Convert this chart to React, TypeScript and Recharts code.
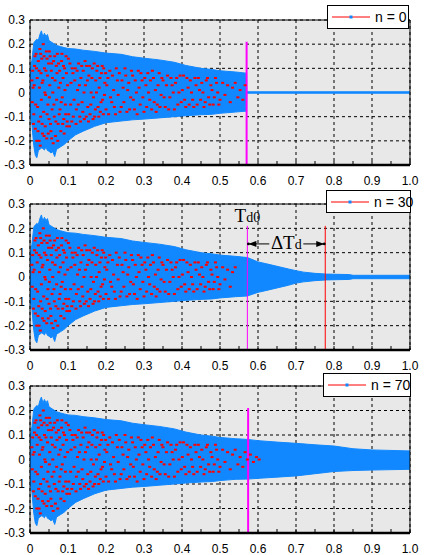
import React from 'react';
import { ComposedChart, Area, Scatter, XAxis, YAxis, CartesianGrid, ReferenceLine } from 'recharts';

// ---------- axis ticks ----------
const xTicks = [0, 0.1, 0.2, 0.3, 0.4, 0.5, 0.6, 0.7, 0.8, 0.9, 1.0];
const xTickLabels = ['0', '0.1', '0.2', '0.3', '0.4', '0.5', '0.6', '0.7', '0.8', '0.9', '1.0'];
const xMinorTicks = [0, 0.05, 0.1, 0.15, 0.2, 0.25, 0.3, 0.35, 0.4, 0.45, 0.5, 0.55, 0.6, 0.65, 0.7, 0.75, 0.8, 0.85, 0.9, 0.95, 1.0];
const yTicks = [-0.3, -0.2, -0.1, 0, 0.1, 0.2, 0.3];
const yTickLabels = ['-0.3', '-0.2', '-0.1', '0', '0.1', '0.2', '0.3'];
const legendLabels = ['n = 0', 'n = 30', 'n = 70'];

// ---------- shared signal envelope (0 .. 0.55) ----------
const envX = [0, 0.005, 0.01, 0.014, 0.018, 0.022, 0.026, 0.03, 0.034, 0.038, 0.042, 0.046, 0.05, 0.055, 0.06, 0.065, 0.07, 0.08, 0.09, 0.1, 0.12, 0.14, 0.17, 0.2, 0.24, 0.27, 0.3, 0.34, 0.38, 0.41, 0.45, 0.48, 0.5, 0.54];
const envUpper = [0.089, 0.134, 0.205, 0.214, 0.22, 0.216, 0.24, 0.255, 0.23, 0.245, 0.232, 0.24, 0.215, 0.21, 0.205, 0.2, 0.195, 0.19, 0.186, 0.182, 0.18, 0.175, 0.17, 0.163, 0.158, 0.148, 0.142, 0.135, 0.125, 0.112, 0.1, 0.095, 0.09, 0.085];
const envLower = [-0.092, -0.133, -0.22, -0.26, -0.27, -0.24, -0.235, -0.23, -0.232, -0.238, -0.225, -0.24, -0.243, -0.25, -0.245, -0.265, -0.235, -0.225, -0.215, -0.2, -0.175, -0.16, -0.14, -0.125, -0.118, -0.113, -0.11, -0.105, -0.1, -0.096, -0.092, -0.09, -0.086, -0.081];

// ---------- per-panel tails ----------
const tail0X = [0.57, 0.5705, 1.0];
const tail0Upper = [0.08, 0.003, 0.003];
const tail0Lower = [-0.077, -0.003, -0.003];

const tail30X = [0.572, 0.6, 0.62, 0.65, 0.68, 0.7, 0.72, 0.75, 0.78, 0.84, 0.85, 1.0];
const tail30Upper = [0.08, 0.062, 0.055, 0.044, 0.033, 0.026, 0.02, 0.015, 0.012, 0.01, 0.007, 0.007];
const tail30Lower = [-0.078, -0.063, -0.056, -0.045, -0.034, -0.025, -0.02, -0.015, -0.012, -0.01, -0.007, -0.007];

const tail70X = [0.572, 0.6, 0.65, 0.7, 0.75, 0.8, 0.85, 0.9, 1.0];
const tail70Upper = [0.082, 0.077, 0.071, 0.066, 0.06, 0.055, 0.044, 0.039, 0.035];
const tail70Lower = [-0.08, -0.077, -0.072, -0.067, -0.058, -0.049, -0.045, -0.043, -0.04];

// ---------- red specks (shared) ----------
const redDotsA: [number, number][] = [
  [0.005, 0.05], [0.006, -0.04], [0.008, 0.02], [0.01, -0.09], [0.012, 0.11], [0.014, -0.15], [0.016, 0.16], [0.018, -0.2], [0.019, 0.06], [0.02, -0.06],
  [0.022, 0.13], [0.023, -0.12], [0.025, 0.02], [0.026, 0.18], [0.027, -0.22], [0.029, 0.08], [0.03, -0.03], [0.031, 0.14], [0.033, -0.17], [0.034, 0.05],
  [0.035, 0.2], [0.036, -0.08], [0.038, 0.1], [0.04, -0.14], [0.041, -0.01], [0.043, 0.17], [0.044, -0.19], [0.046, 0.07], [0.047, -0.05], [0.049, 0.12],
  [0.05, -0.11], [0.052, 0.03], [0.053, 0.15], [0.055, -0.16], [0.056, 0.09], [0.058, -0.07], [0.06, 0.0], [0.061, -0.21], [0.062, 0.13], [0.064, -0.1],
  [0.066, 0.05], [0.067, -0.18], [0.069, 0.11], [0.07, -0.03], [0.072, 0.16], [0.074, -0.13], [0.076, 0.02], [0.078, 0.09], [0.079, -0.07], [0.081, -0.16],
  [0.083, 0.13], [0.085, -0.02], [0.087, 0.06], [0.089, -0.11], [0.091, 0.1], [0.093, -0.05], [0.095, 0.15], [0.097, -0.14], [0.099, 0.03],
  [0.102, -0.09], [0.105, 0.12], [0.108, 0.04], [0.11, -0.12], [0.113, 0.08], [0.116, -0.03], [0.119, 0.1], [0.122, -0.07], [0.125, 0.01], [0.128, 0.12],
  [0.131, -0.1], [0.134, 0.06], [0.137, -0.04], [0.14, 0.09], [0.143, -0.11], [0.146, 0.03], [0.149, 0.11], [0.152, -0.06], [0.155, 0.07], [0.158, -0.09],
  [0.161, 0.0], [0.164, 0.1], [0.167, -0.02], [0.17, -0.1], [0.173, 0.05], [0.176, 0.09], [0.179, -0.06], [0.182, 0.02], [0.185, -0.08], [0.188, 0.08],
  [0.191, -0.03], [0.194, 0.1], [0.197, 0.04],
  [0.2, -0.07], [0.205, 0.06], [0.21, 0.09], [0.215, -0.04], [0.22, 0.01], [0.225, -0.09], [0.23, 0.05], [0.235, 0.08], [0.24, -0.06], [0.245, 0.02],
  [0.25, 0.1], [0.255, -0.08], [0.26, 0.04], [0.265, -0.02], [0.27, 0.07], [0.275, -0.07], [0.28, 0.0], [0.285, 0.09], [0.29, -0.05], [0.295, 0.05],
  [0.3, -0.08], [0.305, 0.03], [0.31, 0.08], [0.315, -0.03], [0.32, -0.07], [0.325, 0.06], [0.33, 0.01], [0.335, -0.05], [0.34, 0.08], [0.345, -0.01],
  [0.35, 0.05], [0.356, -0.06], [0.362, 0.07], [0.368, -0.02], [0.374, 0.03], [0.38, -0.07], [0.386, 0.06], [0.392, 0.0], [0.398, -0.04], [0.404, 0.07],
  [0.41, -0.06], [0.416, 0.02], [0.422, 0.05], [0.428, -0.03], [0.434, 0.06], [0.44, -0.05], [0.446, 0.01], [0.452, 0.04], [0.458, -0.06], [0.464, 0.05],
  [0.47, -0.02], [0.476, 0.03], [0.482, -0.05], [0.488, 0.06], [0.494, 0.0],
  [0.5, -0.03], [0.507, 0.04], [0.513, -0.01], [0.52, 0.03], [0.527, -0.04], [0.533, 0.02], [0.54, 0.04], [0.547, -0.02], [0.553, 0.01], [0.56, -0.03],
  [0.566, 0.03], [0.572, 0.0], [0.58, 0.02], [0.588, -0.01], [0.596, 0.01], [0.603, 0.0],
];
const redDotsB: [number, number][] = [
  [0.007, 0.09], [0.009, -0.13], [0.011, 0.03], [0.013, 0.15], [0.015, -0.05], [0.017, 0.1], [0.021, -0.16], [0.024, 0.09], [0.024, -0.2], [0.028, -0.1],
  [0.028, 0.16], [0.032, 0.04], [0.032, -0.13], [0.037, 0.15], [0.037, -0.18], [0.039, 0.0], [0.042, 0.09], [0.045, -0.09], [0.045, 0.14], [0.048, -0.17],
  [0.051, 0.17], [0.051, -0.02], [0.054, -0.13], [0.057, 0.12], [0.057, -0.19], [0.059, 0.06], [0.063, -0.05], [0.065, 0.15], [0.068, -0.12], [0.071, 0.08],
  [0.073, -0.2], [0.075, 0.12], [0.077, -0.09], [0.08, 0.04], [0.082, -0.04], [0.084, 0.16], [0.086, -0.13], [0.088, 0.11], [0.09, -0.17], [0.092, 0.01],
  [0.094, -0.09], [0.096, 0.08], [0.098, -0.12],
  [0.101, 0.14], [0.104, -0.14], [0.107, -0.05], [0.111, 0.1], [0.114, -0.1], [0.118, 0.05], [0.121, -0.13], [0.124, 0.09], [0.127, -0.05], [0.13, 0.03],
  [0.133, -0.12], [0.136, 0.11], [0.139, -0.08], [0.142, 0.0], [0.145, 0.13], [0.148, -0.1], [0.151, 0.05], [0.154, -0.12], [0.157, 0.11], [0.16, -0.05],
  [0.163, 0.06], [0.166, -0.11], [0.169, 0.12], [0.172, -0.07], [0.175, 0.0], [0.178, 0.11], [0.181, -0.1], [0.184, 0.06], [0.187, -0.04], [0.19, 0.11],
  [0.193, -0.09], [0.196, -0.01], [0.199, 0.08],
  [0.202, 0.03], [0.207, -0.09], [0.212, -0.02], [0.217, 0.07], [0.222, -0.06], [0.227, 0.1], [0.232, -0.01], [0.237, -0.08], [0.242, 0.05], [0.247, -0.04],
  [0.252, 0.07], [0.257, 0.01], [0.262, -0.07], [0.267, 0.09], [0.272, -0.03], [0.277, 0.05], [0.282, -0.09], [0.287, 0.02], [0.292, 0.08], [0.297, -0.02],
  [0.302, 0.06], [0.307, -0.06], [0.312, 0.0], [0.317, 0.05], [0.322, 0.09], [0.327, -0.04], [0.332, -0.08], [0.337, 0.03], [0.342, -0.06], [0.347, 0.06],
  [0.353, -0.02], [0.359, 0.03], [0.365, -0.07], [0.371, 0.06], [0.377, 0.0], [0.383, 0.04], [0.389, -0.05], [0.395, 0.07], [0.401, 0.01], [0.407, -0.03],
  [0.413, 0.06], [0.419, -0.05], [0.425, 0.0], [0.431, -0.06], [0.437, 0.03], [0.443, 0.06], [0.449, -0.03], [0.455, 0.0], [0.461, -0.04], [0.467, 0.06],
  [0.473, -0.05], [0.479, 0.01], [0.485, -0.02], [0.491, 0.04], [0.497, -0.05],
];
const dotCutoff = [0.568, 0.545, 0.605];

// ---------- markers ----------
const markerTop = 0.21;
const td0X = [0.57, 0.572, 0.574];
const tdEndX = 0.777;
const tdArrowY = 0.136;

const BLUE = '#1188ff';
const GRID_BG = '#e8e8e8';
const FONT = '"Liberation Sans", Arial, sans-serif';
const SERIF = '"Liberation Serif", "Times New Roman", serif';

function buildBand(tx: number[], tu: number[], tl: number[]) {
  const rows: { x: number; band: [number, number] }[] = [];
  envX.forEach((x, i) => rows.push({ x, band: [envLower[i], envUpper[i]] }));
  tx.forEach((x, i) => rows.push({ x, band: [tl[i], tu[i]] }));
  return rows;
}

const panels = [
  { band: buildBand(tail0X, tail0Upper, tail0Lower), cutoff: dotCutoff[0], legend: legendLabels[0], td0: td0X[0], top: 0, h: 190, mTop: 20, mBot: 5, xh: 20, lg: { left: 327, top: 5, w: 82, h: 24 }, thick: 2, annotate: false },
  { band: buildBand(tail30X, tail30Upper, tail30Lower), cutoff: dotCutoff[1], legend: legendLabels[1], td0: td0X[1], top: 185, h: 190, mTop: 19, mBot: 5, xh: 20, lg: { left: 326, top: 5, w: 85, h: 23 }, thick: 1, annotate: true },
  { band: buildBand(tail70X, tail70Upper, tail70Lower), cutoff: dotCutoff[2], legend: legendLabels[2], td0: td0X[2], top: 370, h: 185, mTop: 16, mBot: 0, xh: 22, lg: { left: 323, top: 3, w: 88, h: 24 }, thick: 2, annotate: false },
];

const XTick = (props: any) => {
  const { x, y, payload } = props;
  const v = payload.value;
  const i = xTicks.findIndex((t) => Math.abs(t - v) < 1e-6);
  return (
    <g>
      <line x1={x} x2={x} y1={y - 11} y2={y - 15} stroke="#000" strokeWidth={1} />
      {i >= 0 && (
        <text x={x} y={y} dy="0.71em" textAnchor="middle" fontSize={12} fill="#000" fontFamily={FONT}>
          {xTickLabels[i]}
        </text>
      )}
    </g>
  );
};

const yFmt = (v: number) => {
  const i = yTicks.findIndex((t) => Math.abs(t - v) < 1e-6);
  return i >= 0 ? yTickLabels[i] : '';
};

const Speck = (props: any) => {
  const { cx, cy } = props;
  if (cx == null || cy == null) return null;
  return <rect x={cx - 1.5} y={cy - 1} width={3} height={2} fill="#ff0000" />;
};

const Td0Label = (props: any) => {
  const vb = props.viewBox || {};
  return (
    <text x={vb.x} y={(vb.y ?? 0) - 4} textAnchor="middle" fill="#000" fontFamily={SERIF}>
      <tspan fontSize={19}>T</tspan>
      <tspan fontSize={14}>d0</tspan>
    </text>
  );
};

const ArrowLabel = (props: any) => {
  const vb = props.viewBox || {};
  const x0 = vb.x ?? 0;
  const x1 = x0 + (vb.width ?? 0);
  const y = vb.y ?? 0;
  const mid = (x0 + x1) / 2;
  return (
    <g>
      <rect x={mid - 17} y={y - 8} width={34} height={14} fill={GRID_BG} />
      <path d={`M${x0 + 1},${y} L${x0 + 9},${y - 3} L${x0 + 9},${y + 3} Z`} fill="#000" />
      <path d={`M${x1 - 1},${y} L${x1 - 9},${y - 3} L${x1 - 9},${y + 3} Z`} fill="#000" />
      <circle cx={x0 + 1} cy={y} r={1.3} fill="#000" />
      <circle cx={x1 - 1} cy={y} r={1.3} fill="#000" />
      <text x={mid} y={y + 5} textAnchor="middle" fill="#000" fontFamily={SERIF}>
        <tspan fontSize={19}>ΔT</tspan>
        <tspan fontSize={14}>d</tspan>
      </text>
    </g>
  );
};

function Panel({ p }: { p: (typeof panels)[number] }) {
  const dots = redDotsA.concat(redDotsB).filter((d) => d[0] <= p.cutoff).map((d) => ({ x: d[0], y: d[1] }));
  return (
    <div style={{ position: 'absolute', left: 0, top: p.top, width: 424, height: p.h }}>
      <ComposedChart width={424} height={p.h} margin={{ top: p.mTop, right: 14, bottom: p.mBot, left: 0 }}>
        <CartesianGrid
          fill={GRID_BG}
          stroke="#000"
          strokeDasharray="3 3"
          verticalValues={xTicks}
          horizontalValues={yTicks}
        />
        <XAxis
          dataKey="x"
          type="number"
          domain={[0, 1]}
          ticks={xMinorTicks}
          interval={0}
          allowDataOverflow
          height={p.xh}
          tickSize={0}
          tickMargin={11}
          tickLine={false}
          tick={<XTick />}
          axisLine={{ stroke: '#000', strokeWidth: 2.5 }}
        />
        <YAxis
          type="number"
          domain={[-0.3, 0.3]}
          ticks={yTicks}
          interval={0}
          allowDataOverflow
          width={30}
          tickSize={0}
          tickMargin={5}
          tickLine={false}
          tickFormatter={yFmt}
          tick={{ fontSize: 12, fill: '#000', fontFamily: FONT }}
          axisLine={{ stroke: '#000', strokeWidth: 1 }}
        />
        <Area
          data={p.band}
          dataKey="band"
          type="linear"
          stroke={BLUE}
          strokeWidth={1}
          fill={BLUE}
          fillOpacity={1}
          isAnimationActive={false}
          dot={false}
          activeDot={false}
        />
        <Scatter data={dots} dataKey="y" shape={<Speck />} isAnimationActive={false} />
        <ReferenceLine y={0.3} stroke="#000" strokeWidth={1} />
        <ReferenceLine x={1} stroke="#000" strokeWidth={1} />
        <ReferenceLine
          segment={[{ x: p.td0, y: markerTop }, { x: p.td0, y: -0.3 }]}
          stroke="#ff00ff"
          strokeWidth={p.thick}
          label={p.annotate ? (props: any) => <Td0Label {...props} /> : undefined}
        />
        {p.annotate && (
          <ReferenceLine segment={[{ x: tdEndX, y: markerTop }, { x: tdEndX, y: -0.3 }]} stroke="#ff0000" strokeWidth={1} />
        )}
        {p.annotate && (
          <ReferenceLine
            segment={[{ x: p.td0, y: tdArrowY }, { x: tdEndX, y: tdArrowY }]}
            stroke="#000"
            strokeWidth={1}
            label={(props: any) => <ArrowLabel {...props} />}
          />
        )}
      </ComposedChart>
      <div
        style={{
          position: 'absolute',
          left: p.lg.left,
          top: p.lg.top,
          width: p.lg.w,
          height: p.lg.h,
          boxSizing: 'border-box',
          border: '1px solid #000',
          background: '#fff',
          display: 'flex',
          alignItems: 'center',
          fontFamily: FONT,
          fontSize: 14,
          color: '#000',
        }}
      >
        <svg width={44} height={10} style={{ marginLeft: 3, flex: 'none' }}>
          <line x1={1} x2={39} y1={5} y2={5} stroke="#ff0000" strokeWidth={1} />
          <rect x={18.5} y={3.5} width={3} height={3} fill={BLUE} />
        </svg>
        <span style={{ whiteSpace: 'nowrap' }}>{p.legend}</span>
      </div>
    </div>
  );
}

export default function App() {
  return (
    <div style={{ position: 'absolute', left: 0, top: 0, width: 424, height: 555, background: '#fff', overflow: 'hidden' }}>
      {panels.map((p, i) => (
        <Panel key={i} p={p} />
      ))}
    </div>
  );
}
